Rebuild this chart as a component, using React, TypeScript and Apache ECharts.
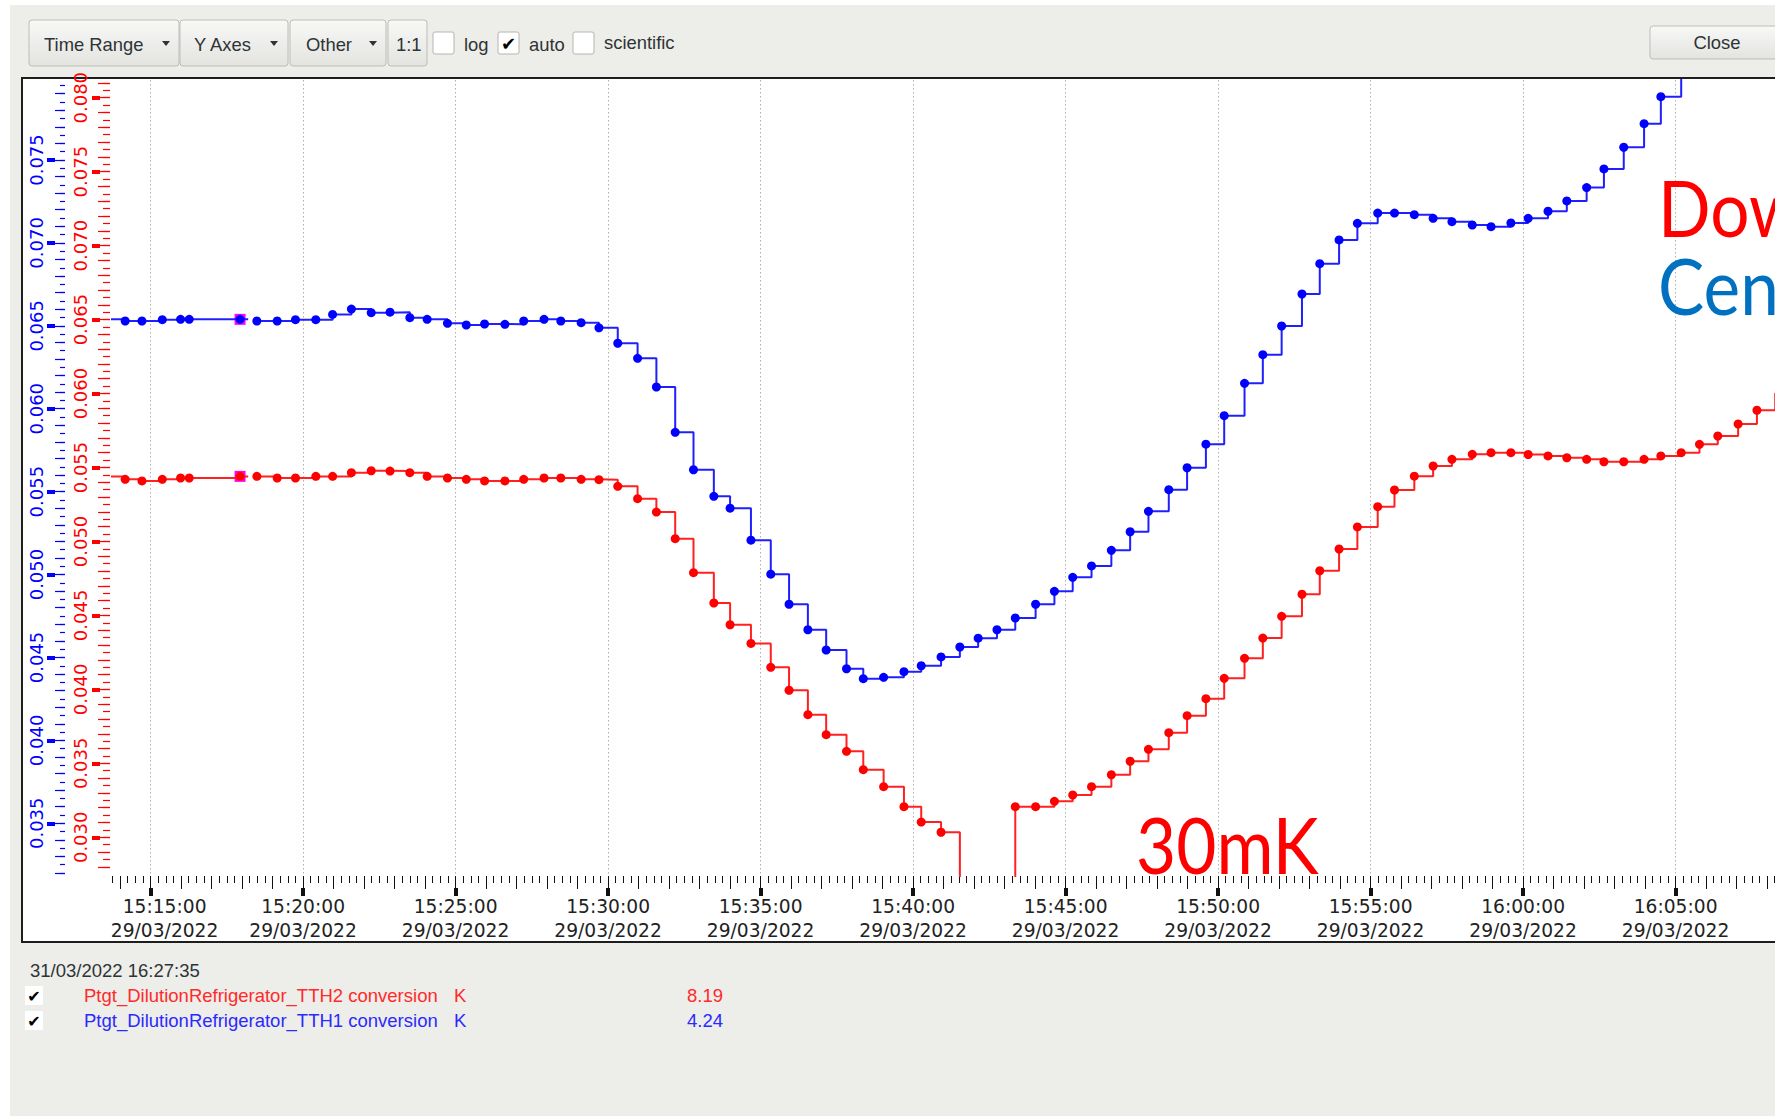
import React, { useEffect, useRef } from "react";
import * as echarts from "echarts";

const W = 1775;
const H = 1116;

// ---------------- data ----------------
const DATE_LABEL = "29/03/2022";
const SNAPSHOT_TIME = "31/03/2022 16:27:35";

const sampleTimes = [
  "15:13:32", "15:14:10", "15:14:43", "15:15:23", "15:15:59", "15:16:16", "15:17:56", "15:18:12",
  "15:18:29", "15:19:09", "15:19:45", "15:20:25", "15:20:58", "15:21:35", "15:22:14", "15:22:51",
  "15:23:30", "15:24:04", "15:24:44", "15:25:21", "15:25:57", "15:26:37", "15:27:14", "15:27:54",
  "15:28:27", "15:29:07", "15:29:42", "15:30:19", "15:30:58", "15:31:35", "15:32:12", "15:32:48",
  "15:33:28", "15:34:00", "15:34:41", "15:35:20", "15:35:56", "15:36:33", "15:37:09", "15:37:49",
  "15:38:22", "15:39:02", "15:39:42", "15:40:16", "15:40:55", "15:41:32", "15:42:08", "15:42:45",
  "15:43:21", "15:44:01", "15:44:38", "15:45:14", "15:45:51", "15:46:30", "15:47:07", "15:47:43",
  "15:48:23", "15:48:59", "15:49:36", "15:50:12", "15:50:52", "15:51:28", "15:52:05", "15:52:45",
  "15:53:20", "15:53:58", "15:54:34", "15:55:14", "15:55:47", "15:56:26", "15:57:03", "15:57:40",
  "15:58:20", "15:58:57", "15:59:36", "16:00:10", "16:00:49", "16:01:26", "16:02:05", "16:02:39",
  "16:03:18", "16:03:58", "16:04:31", "16:05:11", "16:05:47", "16:06:23", "16:07:03", "16:07:40",
  "16:08:16", "16:08:53",
];

// TTH1 (blue, left axis)
const tth1 = [
  0.06539, 0.06529, 0.06529, 0.06537, 0.06539, 0.06539, 0.06539, null,
  0.06529, 0.06529, 0.06537, 0.06537, 0.06569, 0.06601, 0.06579, 0.06582,
  0.06549, 0.06539, 0.06515, 0.06505, 0.06511, 0.06509, 0.06529, 0.06539,
  0.06529, 0.06519, 0.06488, 0.06395, 0.06304, 0.06131, 0.05858, 0.05632,
  0.05472, 0.05400, 0.05207, 0.05002, 0.04821, 0.04667, 0.04545, 0.04432,
  0.04372, 0.04380, 0.04414, 0.04450, 0.04503, 0.04563, 0.04616, 0.04667,
  0.04738, 0.04821, 0.04899, 0.04983, 0.05052, 0.05146, 0.05258, 0.05381,
  0.05512, 0.05644, 0.05786, 0.05958, 0.06153, 0.06326, 0.06499, 0.06692,
  0.06875, 0.07018, 0.07118, 0.07180, 0.07180, 0.07170, 0.07148, 0.07128,
  0.07108, 0.07098, 0.07120, 0.07148, 0.07191, 0.07253, 0.07334, 0.07446,
  0.07577, 0.07719, 0.07882, 0.0806, 0.0822, 0.0839, 0.0857, 0.0874,
  0.0891, 0.0908,
];

// TTH2 (red, second axis)
const tth2 = [
  0.05440, 0.05420, 0.05409, 0.05420, 0.05429, 0.05429, 0.05440, null,
  0.05440, 0.05429, 0.05429, 0.05440, 0.05440, 0.05465, 0.05478, 0.05476,
  0.05465, 0.05440, 0.05429, 0.05420, 0.05409, 0.05409, 0.05420, 0.05429,
  0.05429, 0.05420, 0.05418, 0.05373, 0.05289, 0.05199, 0.05019, 0.04789,
  0.04584, 0.04437, 0.04311, 0.04149, 0.03994, 0.03829, 0.03694, 0.03581,
  0.03457, 0.03342, 0.03207, 0.03103, 0.03034, 0.0262, 0.0258, 0.0262,
  0.03207, 0.03207, 0.03243, 0.03286, 0.03342, 0.03423, 0.03514, 0.03595,
  0.03707, 0.03822, 0.03937, 0.04075, 0.04210, 0.04347, 0.04494, 0.04643,
  0.04802, 0.04949, 0.05098, 0.05235, 0.05348, 0.05441, 0.05510, 0.05555,
  0.05589, 0.05600, 0.05600, 0.05588, 0.05578, 0.05566, 0.05555, 0.05539,
  0.05539, 0.05555, 0.05578, 0.05600, 0.05657, 0.05713, 0.05794, 0.05887,
  0.06002, 0.0612,
];

// sample flagged with a magenta square in the viewer
const flaggedIndex = 6;

const legendNames = [
  "Ptgt_DilutionRefrigerator_TTH2 conversion",
  "Ptgt_DilutionRefrigerator_TTH1 conversion",
];
const legendUnits = ["K", "K"];
const legendValues = ["8.19", "4.24"];

const toolbarButtons = ["Time Range", "Y Axes", "Other", "1:1"];
const toolbarChecks = ["log", "auto", "scientific"];
const toolbarChecked = [false, true, false];
const closeLabel = "Close";

const noteMin = "30mK";
const noteDown = "Dow";
const noteCenter = "Cen";

// ---------------- helpers ----------------
const toSec = (s: string) => {
  const [h, m, x] = s.split(":").map(Number);
  return h * 3600 + m * 60 + x;
};
const pad = (n: number) => String(n).padStart(2, "0");
const fmtSec = (v: number) => {
  const t = Math.round(v);
  return `${pad(Math.floor(t / 3600))}:${pad(Math.floor((t % 3600) / 60))}:${pad(t % 60)}`;
};

// pixel calibration (layout)
const X_REF = toSec("15:15:00");
const X_REF_PX = 150.6;
const PX_PER_SEC = 30.5 / 60;
const xPx = (s: number) => X_REF_PX + (s - X_REF) * PX_PER_SEC;
const PLOT_TOP = 80;
const AXIS_Y = 876;
const blueY = (v: number) => 160 + (0.075 - v) * 16582;
const blueV = (y: number) => 0.075 - (y - 160) / 16582;
const redY = (v: number) => 97.7 + (0.08 - v) * 14792;
const redV = (y: number) => 0.08 - (y - 97.7) / 14792;
const X_MIN = toSec("15:13:45");
const X_MAX = toSec("16:08:15");
const FIRST_LABEL = toSec("15:15:00");

const BLUE = "#0000ff";
const RED = "#ff0000";
const UI_TEXT = "#2e3436";
const UI_FONT = "Liberation Sans";

export default function App() {
  const ref = useRef<HTMLDivElement>(null);

  useEffect(() => {
    if (!ref.current) return;
    const chart = echarts.init(ref.current, null, { renderer: "svg", width: W, height: H });

    const fullL = xPx(X_MIN);
    const fullR = W - xPx(X_MAX);
    const xGrid = (a: string, b: string) => ({
      left: xPx(toSec(a)),
      right: W - xPx(toSec(b)),
      top: PLOT_TOP,
      bottom: H - AXIS_Y,
    });
    const yGrid = (f: (v: number) => number, lo: number, hi: number) => ({
      left: fullL,
      right: fullR,
      top: f(hi),
      bottom: H - f(lo),
    });

    const grids = [
      { left: fullL, right: fullR, top: PLOT_TOP, bottom: H - AXIS_Y },
      xGrid("15:14:00", "16:08:00"),
      xGrid("15:15:00", "16:05:00"),
      yGrid(blueY, 0.032, 0.0795),
      yGrid(blueY, 0.032, 0.079),
      yGrid(blueY, 0.035, 0.075),
      yGrid(redY, 0.028, 0.081),
      yGrid(redY, 0.028, 0.081),
      yGrid(redY, 0.03, 0.08),
    ];

    const hidden = (g: number) => ({
      type: "value", gridIndex: g, show: false, min: 0, max: 1,
      axisLine: { show: false, onZero: false }, splitLine: { show: false },
    });

    const xTick = (g: number, a: string, b: string, interval: number, len: number, width: number, extra: any = {}) => ({
      type: "value",
      gridIndex: g,
      position: "bottom",
      min: toSec(a),
      max: toSec(b),
      interval,
      axisLine: { show: false, onZero: false },
      axisTick: { show: true, length: len, lineStyle: { color: "#111111", width } },
      axisLabel: { show: false },
      splitLine: { show: false },
      ...extra,
    });

    const yTick = (g: number, lo: number, hi: number, interval: number, axisX: number, len: number, width: number, color: string, label: any = null) => ({
      type: "value",
      gridIndex: g,
      position: "left",
      min: lo,
      max: hi,
      interval,
      offset: fullL - axisX,
      axisLine: { show: false, onZero: false },
      splitLine: { show: false },
      axisTick: { show: true, length: len, lineStyle: { color, width } },
      axisLabel: label
        ? {
            show: true,
            rotate: 90,
            margin: label.margin,
            color,
            fontFamily: "DejaVu Sans",
            fontSize: 18,
            formatter: (v: number) => v.toFixed(3),
          }
        : { show: false },
    });

    const labelFont = { fontFamily: "DejaVu Sans", fontSize: 18.67, color: "#222222", lineHeight: 24 };
    const xAxes = [
      xTick(0, "15:13:45", "16:08:15", 15, 7, 1),
      xTick(1, "15:14:00", "16:08:00", 60, 13, 1),
      xTick(2, "15:15:00", "16:05:00", 300, 8, 4, {
        offset: 12,
        axisLabel: {
          show: true,
          margin: 6,
          ...labelFont,
          formatter: (v: number) =>
            Math.round(v) === FIRST_LABEL
              ? `{f|${fmtSec(v)}}\n{f|${DATE_LABEL}}`
              : `${fmtSec(v)}\n${DATE_LABEL}`,
          rich: { f: { ...labelFont, padding: [0, 0, 0, 28] } },
        },
        splitLine: { show: true, lineStyle: { color: "#b0b0b0", width: 1, type: [1.5, 2.5] } },
      }),
      hidden(3), hidden(4), hidden(5), hidden(6), hidden(7), hidden(8),
    ];

    const yAxes = [
      { type: "value", gridIndex: 0, show: false, min: blueV(AXIS_Y), max: blueV(PLOT_TOP), axisLine: { onZero: false }, splitLine: { show: false } },
      { type: "value", gridIndex: 0, show: false, min: redV(AXIS_Y), max: redV(PLOT_TOP), axisLine: { onZero: false }, splitLine: { show: false } },
      hidden(1),
      hidden(2),
      yTick(3, 0.032, 0.0795, 0.0005, 65, 5, 1.2, BLUE),
      yTick(4, 0.032, 0.079, 0.001, 65, 10, 1.2, BLUE),
      yTick(5, 0.035, 0.075, 0.005, 55, 8, 4, BLUE, { margin: 10 }),
      yTick(6, 0.028, 0.081, 0.0005, 110, 7, 1.2, RED),
      yTick(7, 0.028, 0.081, 0.001, 110, 12, 1.2, RED),
      yTick(8, 0.03, 0.08, 0.005, 100, 8, 4, RED, { margin: 11 }),
    ];

    const xs = sampleTimes.map(toSec);
    const flagMark = (vals: (number | null)[]) => ({
      silent: true,
      z: 1,
      symbol: "rect",
      symbolSize: 11,
      itemStyle: { color: "#ff00ff" },
      label: { show: false },
      data: [{ coord: [xs[flaggedIndex], vals[flaggedIndex]] }],
    });
    const series = [
      {
        name: legendNames[0],
        type: "line",
        xAxisIndex: 0,
        yAxisIndex: 1,
        data: xs.map((x, i) => [x, tth2[i]]),
        step: "end",
        symbol: "circle",
        symbolSize: 9,
        clip: true,
        connectNulls: false,
        lineStyle: { color: "#ff2020", width: 2 },
        itemStyle: { color: RED },
        markPoint: flagMark(tth2),
        z: 3,
      },
      {
        name: legendNames[1],
        type: "line",
        xAxisIndex: 0,
        yAxisIndex: 0,
        data: xs.map((x, i) => [x, tth1[i]]),
        step: "end",
        symbol: "circle",
        symbolSize: 9,
        clip: true,
        connectNulls: false,
        lineStyle: { color: "#2020ff", width: 2 },
        itemStyle: { color: BLUE },
        markPoint: flagMark(tth1),
        z: 4,
      },
    ];

    // ---------- graphic (window chrome, legend, notes) ----------
    const g: any[] = [];
    g.push({ type: "rect", z: -100, silent: true, shape: { x: 0, y: 0, width: W, height: H }, style: { fill: "#ffffff" } });
    g.push({ type: "rect", z: -99, silent: true, shape: { x: 10, y: 5, width: W - 10, height: H - 5 }, style: { fill: "#edede9" } });
    g.push({
      type: "rect", z: -98, silent: true,
      shape: { x: 22, y: 78, width: 1800, height: 864 },
      style: { fill: "#ffffff", stroke: "#1e1e1e", lineWidth: 2 },
    });

    const btnGrad = () =>
      new echarts.graphic.LinearGradient(0, 0, 0, 1, [
        { offset: 0, color: "#f8f8f7" },
        { offset: 1, color: "#e3e3e0" },
      ]);
    const btnX = [29, 180, 290, 388];
    const btnW = [150, 108, 96, 39];
    const btnTextX = [44, 194, 306, 396];
    const arrowX = [166, 274, 373, 0];
    toolbarButtons.forEach((label, i) => {
      g.push({
        type: "rect", z: -90,
        shape: { x: btnX[i], y: 20, width: btnW[i], height: 46, r: 3 },
        style: { fill: btnGrad(), stroke: "#bdbdb8", lineWidth: 1 },
      });
      g.push({
        type: "text", z: -89,
        style: { text: label, x: btnTextX[i], y: 44, fill: UI_TEXT, fontFamily: UI_FONT, fontSize: 18.4, verticalAlign: "middle", align: "left" },
      });
      if (arrowX[i]) {
        g.push({
          type: "polygon", z: -89,
          shape: { points: [[arrowX[i] - 4, 41], [arrowX[i] + 4, 41], [arrowX[i], 46]] },
          style: { fill: UI_TEXT },
        });
      }
    });
    const chkX = [433, 498, 573];
    const chkLabelX = [464, 529, 604];
    toolbarChecks.forEach((label, i) => {
      g.push({
        type: "rect", z: -90,
        shape: { x: chkX[i], y: 32, width: 21, height: 22, r: 2 },
        style: { fill: "#ffffff", stroke: "#b5b5b0", lineWidth: 1 },
      });
      if (toolbarChecked[i]) {
        g.push({
          type: "text", z: -89,
          style: { text: "✔", x: chkX[i] + 10.5, y: 43, fill: "#000000", fontFamily: "DejaVu Sans", fontSize: 18, fontWeight: "bold", align: "center", verticalAlign: "middle" },
        });
      }
      g.push({
        type: "text", z: -89,
        style: { text: label, x: chkLabelX[i], y: i === 2 ? 42 : 44, fill: UI_TEXT, fontFamily: UI_FONT, fontSize: 18.4, verticalAlign: "middle", align: "left" },
      });
    });
    g.push({
      type: "rect", z: -90,
      shape: { x: 1650, y: 26, width: 160, height: 33, r: 3 },
      style: { fill: btnGrad(), stroke: "#bdbdb8", lineWidth: 1 },
    });
    g.push({
      type: "text", z: -89,
      style: { text: closeLabel, x: 1717, y: 42, fill: UI_TEXT, fontFamily: UI_FONT, fontSize: 18.4, align: "center", verticalAlign: "middle" },
    });

    // legend area
    g.push({
      type: "text", z: -89,
      style: { text: SNAPSHOT_TIME, x: 30, y: 970, fill: UI_TEXT, fontFamily: UI_FONT, fontSize: 18.5, verticalAlign: "middle" },
    });
    const rowY = [995, 1020];
    const rowColor = ["#ff2a2a", "#2a2aff"];
    legendNames.forEach((name, i) => {
      g.push({ type: "rect", z: -90, shape: { x: 25, y: rowY[i] - 9, width: 18, height: 19 }, style: { fill: "#ffffff" } });
      g.push({
        type: "text", z: -89,
        style: { text: "✔", x: 34, y: rowY[i] + 1, fill: "#000000", fontFamily: "DejaVu Sans", fontSize: 16, fontWeight: "bold", align: "center", verticalAlign: "middle" },
      });
      g.push({ type: "text", z: -89, style: { text: name, x: 84, y: rowY[i], fill: rowColor[i], fontFamily: UI_FONT, fontSize: 18.5, verticalAlign: "middle" } });
      g.push({ type: "text", z: -89, style: { text: legendUnits[i], x: 454, y: rowY[i], fill: rowColor[i], fontFamily: UI_FONT, fontSize: 18.5, verticalAlign: "middle" } });
      g.push({ type: "text", z: -89, style: { text: legendValues[i], x: 687, y: rowY[i], fill: rowColor[i], fontFamily: UI_FONT, fontSize: 18.5, verticalAlign: "middle" } });
    });

    // annotations
    const note = (text: string, x: number, y: number, fill: string) => ({
      type: "text", z: 50, x, y, scaleX: 0.9,
      style: { text, x: 0, y: 0, fill, fontFamily: "Lato", fontSize: 77, verticalAlign: "middle", align: "left" },
    });
    g.push(note(noteMin, 1136, 845, "#ff0000"));
    g.push(note(noteDown, 1658, 208, "#ff0000"));
    g.push(note(noteCenter, 1658, 286, "#0070c0"));

    chart.setOption({
      animation: false,
      backgroundColor: "transparent",
      grid: grids,
      xAxis: xAxes,
      yAxis: yAxes,
      series,
      graphic: { elements: g },
    });

    return () => chart.dispose();
  }, []);

  return <div ref={ref} style={{ position: "absolute", left: 0, top: 0, width: W, height: H }} />;
}
